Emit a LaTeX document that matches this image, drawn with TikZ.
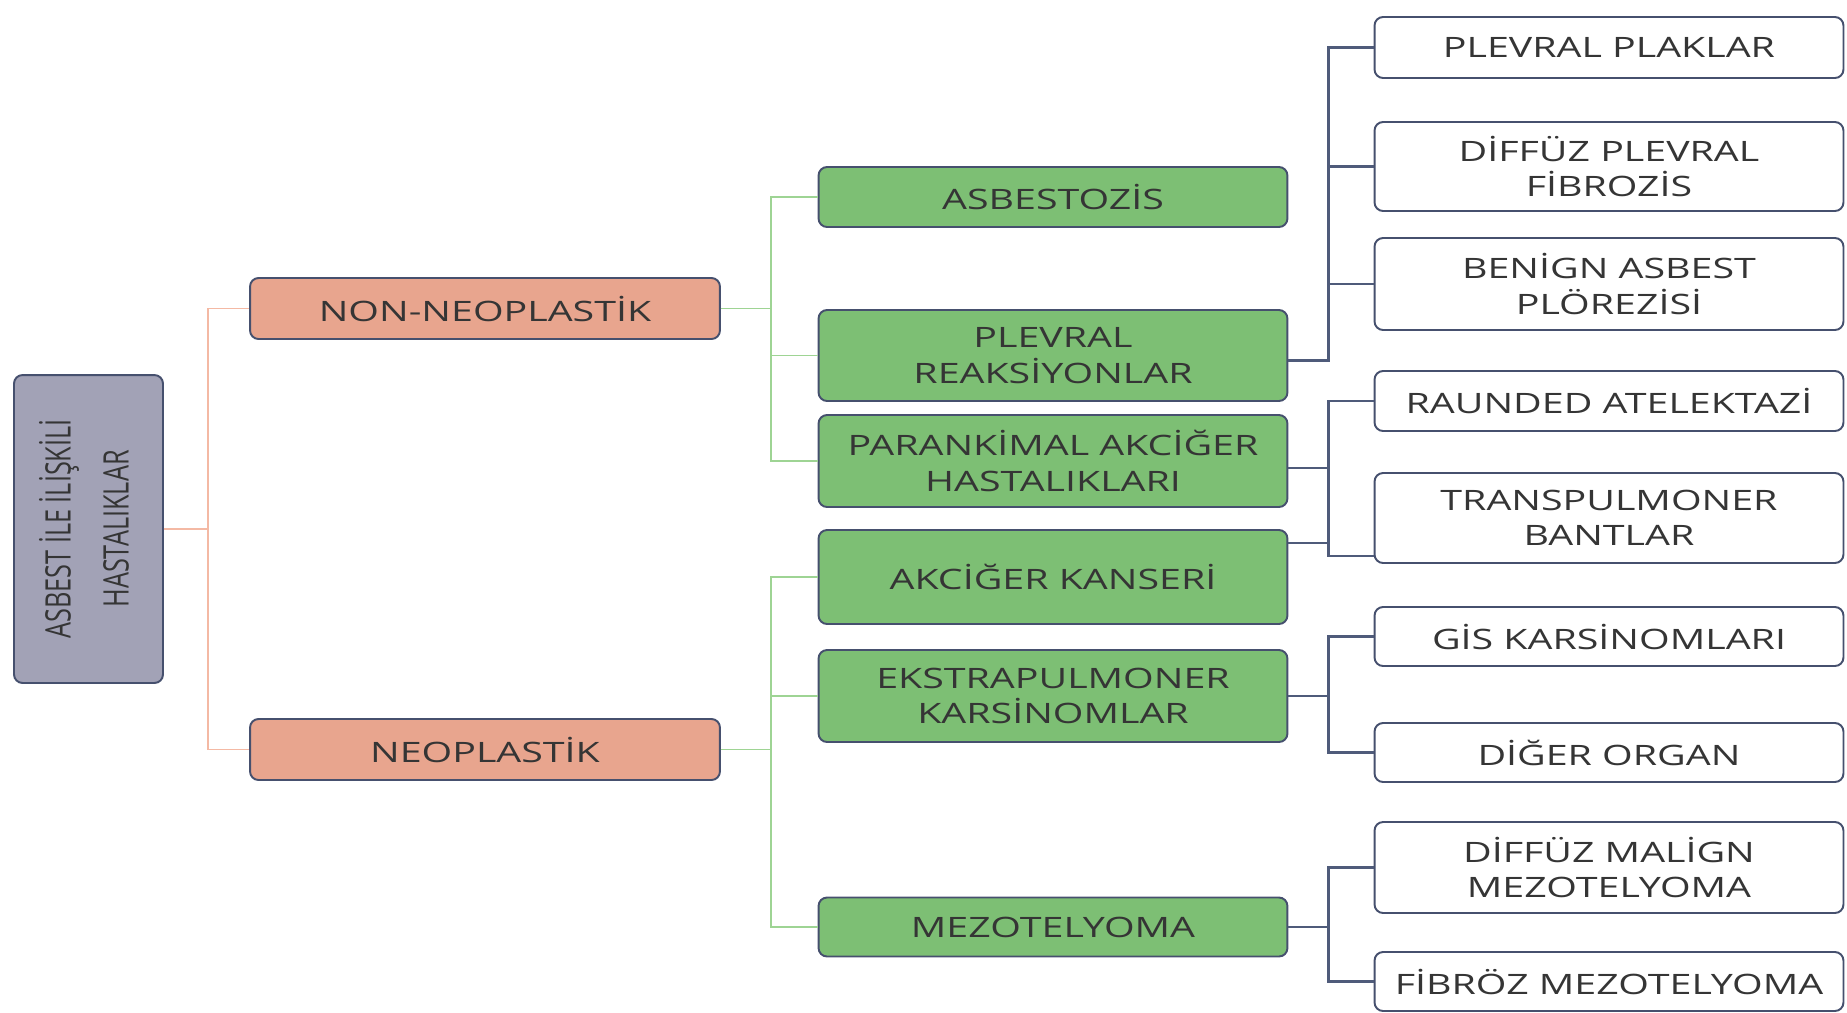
\documentclass[tikz,border=0pt]{standalone}
\usepackage{fontspec}
\setmainfont{Open Sans}[FakeStretch=1.4]
\newfontfamily\narrowfont{Open Sans}[FakeStretch=0.72]
\usepackage{tikz}
\usetikzlibrary{calc}

\definecolor{edgecol}{HTML}{46506E}
\definecolor{rootfill}{HTML}{A2A2B6}
\definecolor{orangefill}{HTML}{E8A58E}
\definecolor{greenfill}{HTML}{7DBF74}
\definecolor{orangeline}{HTML}{F4B9A4}
\definecolor{greenline}{HTML}{9ED494}
\definecolor{blueline}{HTML}{4F5B7A}
\definecolor{txt}{HTML}{353535}

\begin{document}
\begin{tikzpicture}[x=0.02cm, y=-0.02cm,
    box/.style={draw=edgecol, line width=1.1pt, rounded corners=0.17cm,
        align=center, text=txt, inner sep=0pt,
        font=\fontsize{16}{20}\selectfont},
    rootbox/.style={box, fill=rootfill, minimum width=2.98cm, minimum height=6.16cm},
    catbox/.style={box, fill=orangefill, minimum width=9.4cm},
    subbox/.style={box, fill=greenfill, minimum width=9.38cm},
    leafbox/.style={box, fill=white, minimum width=9.38cm},
    orangelink/.style={draw=orangeline, line width=0.8pt},
    greenlink/.style={draw=greenline, line width=0.8pt},
    bluelink/.style={draw=blueline, line width=1.4pt}]

    \useasboundingbox (0,0) rectangle (1847,1012);

    % Root
    \node[rootbox] (root) at (88.5,529) {};
    \node[rotate=90, align=center, text=txt,
        font=\narrowfont\fontsize{20}{33}\selectfont] (rootlbl) at (84,529)
        {ASBEST İLE İLİŞKİLİ\\HASTALIKLAR};

    % Level 1
    \node[catbox, minimum height=1.22cm] (nonneo) at (485,308.5) {NON-NEOPLASTİK};
    \node[catbox, minimum height=1.22cm] (neo) at (485,749.5) {NEOPLASTİK};

    % Level 2
    \node[subbox, minimum height=1.2cm] (asb) at (1053,197) {ASBESTOZİS};
    \node[subbox, minimum height=1.82cm] (plev) at (1053,355.5) {PLEVRAL\\REAKSİYONLAR};
    \node[subbox, minimum height=1.84cm] (par) at (1053,461) {PARANKİMAL AKCİĞER\\HASTALIKLARI};
    \node[subbox, minimum height=1.88cm] (akc) at (1053,577) {AKCİĞER KANSERİ};
    \node[subbox, minimum height=1.84cm] (eks) at (1053,696) {EKSTRAPULMONER\\KARSİNOMLAR};
    \node[subbox, minimum height=1.18cm] (mez) at (1053,927) {MEZOTELYOMA};

    % Level 3
    \node[leafbox, minimum height=1.22cm] (ppl) at (1609,47.5) {PLEVRAL PLAKLAR};
    \node[leafbox, minimum height=1.78cm] (dpf) at (1609,166.5) {DİFFÜZ PLEVRAL\\FİBROZİS};
    \node[leafbox, minimum height=1.84cm] (bap) at (1609,284) {BENİGN ASBEST\\PLÖREZİSİ};
    \node[leafbox, minimum height=1.2cm] (rat) at (1609,401) {RAUNDED ATELEKTAZİ};
    \node[leafbox, minimum height=1.8cm] (tra) at (1609,518) {TRANSPULMONER\\BANTLAR};
    \node[leafbox, minimum height=1.18cm] (gis) at (1609,636.5) {GİS KARSİNOMLARI};
    \node[leafbox, minimum height=1.18cm] (dig) at (1609,752.5) {DİĞER ORGAN};
    \node[leafbox, minimum height=1.82cm] (dmm) at (1609,867.5) {DİFFÜZ MALİGN\\MEZOTELYOMA};
    \node[leafbox, minimum height=1.18cm] (fib) at (1609,981.5) {FİBRÖZ MEZOTELYOMA};

    % root links
    \foreach \n in {nonneo, neo}
        \draw[orangelink] (root.east) -- ++(0.88cm,0) |- (\n.west);

    % green links
    \foreach \n in {asb, plev, par}
        \draw[greenlink] (nonneo.east) -- ++(1cm,0) |- (\n.west);
    \foreach \n in {akc, eks, mez}
        \draw[greenlink] (neo.east) -- ++(1cm,0) |- (\n.west);

    % blue links
    \foreach \n in {ppl, dpf, bap}
        \draw[bluelink] ([yshift=-0.1cm]plev.east) -- ++(0.8cm,0) |- (\n.west);
    \draw[bluelink] ([yshift=-0.14cm]par.east) -- ++(0.8cm,0) |- (rat.west);
    \draw[bluelink] ([yshift=-0.14cm]par.east) -- ++(0.8cm,0) |- ([yshift=-0.76cm]tra.west);
    \draw[bluelink] ([yshift=0.68cm]akc.east) -- ++(0.8cm,0);
    \foreach \n in {gis, dig}
        \draw[bluelink] (eks.east) -- ++(0.8cm,0) |- (\n.west);
    \foreach \n in {dmm, fib}
        \draw[bluelink] (mez.east) -- ++(0.8cm,0) |- (\n.west);
\end{tikzpicture}
\end{document}
